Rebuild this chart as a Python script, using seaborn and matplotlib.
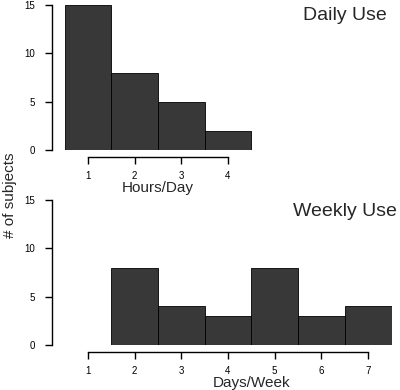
import matplotlib
matplotlib.use("Agg")
import matplotlib.pyplot as plt
import seaborn as sns

# daily use: hours per day
hours = [1, 2, 3, 4]
hours_counts = [15, 8, 5, 2]

# weekly use: days per week
days = [2, 3, 4, 5, 6, 7]
days_counts = [8, 4, 3, 8, 3, 4]

hours_ticks = [1, 2, 3, 4]
days_ticks = [1, 2, 3, 4, 5, 6, 7]
y_ticks = [0, 5, 10, 15]

sns.set_style("ticks")
plt.rcParams['font.family'] = ['Liberation Sans', 'DejaVu Sans']

fig = plt.figure(figsize=(4, 3.9), dpi=100)
W, H = 400, 390


def px_axes(x0, y0, x1, y1):
    # pixel box (top-left origin) -> figure axes
    return fig.add_axes([x0 / W, 1 - y1 / H, (x1 - x0) / W, (y1 - y0) / H])


ax1 = px_axes(64.5, 5, 391.5, 150)
ax2 = px_axes(64.5, 200, 391.5, 345)

bar_kw = dict(discrete=True, color='#383838', edgecolor='black', linewidth=0.6, alpha=1)
sns.histplot(x=hours, weights=hours_counts, ax=ax1, **bar_kw)
sns.histplot(x=days, weights=days_counts, ax=ax2, **bar_kw)

for ax, ticks in [(ax1, hours_ticks), (ax2, days_ticks)]:
    ax.set_xlim(0.5, 7.5)
    ax.set_ylim(0, 15)
    ax.set_xticks(ticks)
    ax.set_yticks(y_ticks)
    ax.set_yticklabels([str(t) for t in y_ticks], rotation=90, va='center')
    ax.spines['top'].set_visible(False)
    ax.spines['right'].set_visible(False)
    ax.spines['left'].set_position(('outward', 9))
    ax.spines['bottom'].set_position(('outward', 5))
    ax.spines['left'].set_bounds(0, 15)
    ax.spines['bottom'].set_bounds(ticks[0], ticks[-1])
    for s in ['left', 'bottom']:
        ax.spines[s].set_linewidth(1.0)
        ax.spines[s].set_color('black')
    ax.tick_params(axis='both', labelsize=7, length=5, width=1.0, colors='black', pad=7)
    ax.tick_params(axis='x', pad=5)
    ax.set_xlabel('')
    ax.set_ylabel('')

fig.text(158 / W, 1 - 188 / H, 'Hours/Day', ha='center', va='center', fontsize=11)
fig.text(252 / W, 1 - 383 / H, 'Days/Week', ha='center', va='center', fontsize=11)
fig.text(345 / W, 1 - 16 / H, 'Daily Use', ha='center', va='center', fontsize=14)
fig.text(345 / W, 1 - 211 / H, 'Weekly Use', ha='center', va='center', fontsize=14)
fig.text(10 / W, 1 - 195 / H, '# of subjects', ha='center', va='center',
         rotation=90, fontsize=11)

fig.savefig('out.png', dpi=100)
